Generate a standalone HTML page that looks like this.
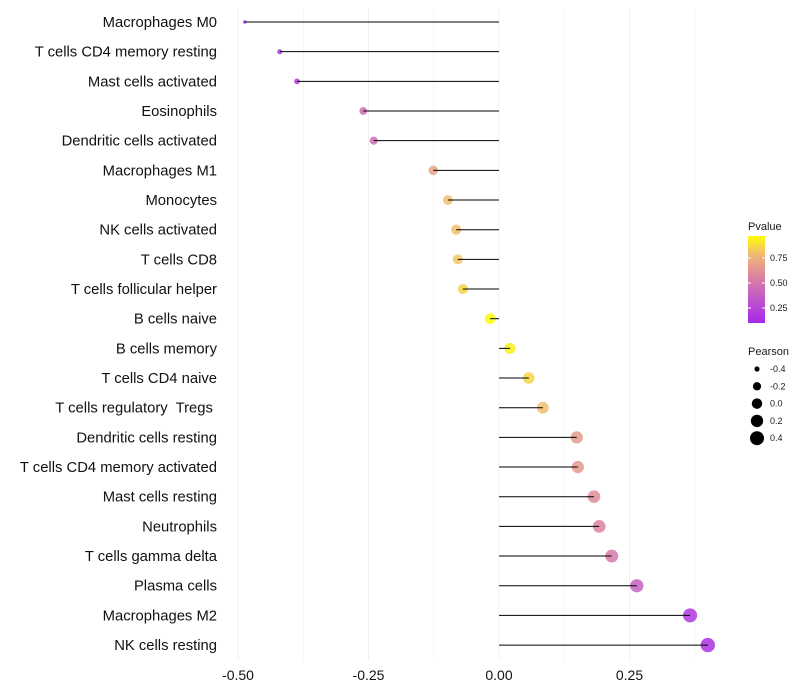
<!DOCTYPE html>
<html><head><meta charset="utf-8"><style>
body{margin:0;background:#fff;font-family:"Liberation Sans",sans-serif}
svg{display:block}
text{white-space:pre}
</style></head><body>
<svg id="c" width="800" height="700"></svg>
<script>
const categories=["Macrophages M0","T cells CD4 memory resting","Mast cells activated","Eosinophils","Dendritic cells activated","Macrophages M1","Monocytes","NK cells activated","T cells CD8","T cells follicular helper","B cells naive","B cells memory","T cells CD4 naive","T cells regulatory  Tregs ","Dendritic cells resting","T cells CD4 memory activated","Mast cells resting","Neutrophils","T cells gamma delta","Plasma cells","Macrophages M2","NK cells resting"];
const pearson=[-0.487,-0.42,-0.387,-0.26,-0.24,-0.126,-0.098,-0.082,-0.079,-0.069,-0.017,0.021,0.057,0.084,0.149,0.151,0.182,0.192,0.216,0.264,0.366,0.4];
const pvalue=[0.1,0.18,0.2,0.45,0.45,0.7,0.8,0.8,0.82,0.85,0.96,0.93,0.86,0.8,0.66,0.65,0.6,0.55,0.5,0.38,0.17,0.14];
const xTicks=[-0.5,-0.25,0,0.25];
const xTickLabels=["-0.50","-0.25","0.00","0.25"];
const pTicks=[0.25,0.5,0.75];
const sizeTicks=[-0.4,-0.2,0,0.2,0.4];

const NS="http://www.w3.org/2000/svg";
const svg=document.getElementById('c');
const X=v=>499+v*522;
const Y=i=>22+i*29.67;
const R=v=>Math.sqrt(Math.max(1,2.9+(v+0.487)*55));
function mk(t,a,p){const e=document.createElementNS(NS,t);for(const k in a)e.setAttribute(k,a[k]);(p||svg).appendChild(e);return e;}
const stops=[[0.05,[160,32,240]],[0.4,[200,100,190]],[0.6,[225,140,150]],[0.8,[240,190,110]],[0.97,[255,255,0]]];
function col(p){if(p<=stops[0][0])return 'rgb('+stops[0][1]+')';for(let i=1;i<stops.length;i++){if(p<=stops[i][0]){const a=stops[i-1],b=stops[i],t=(p-a[0])/(b[0]-a[0]);return 'rgb('+a[1].map((c,j)=>Math.round(c+(b[1][j]-c)*t))+')';}}return 'rgb('+stops[stops.length-1][1]+')';}

for(let v=-0.5;v<=0.375;v+=0.125){const g=mk('line',{x1:X(v),x2:X(v),y1:8,y2:660,stroke:'#f0f0f0','stroke-width':Math.abs(v*4-Math.round(v*4))<1e-6?1:0.6});
}
xTicks.forEach((v,i)=>{const t=mk('text',{x:X(v),y:680,'text-anchor':'middle','font-size':14,fill:'#111'});t.textContent=xTickLabels[i];
});
categories.forEach((c,i)=>{
 const t=mk('text',{x:217,y:Y(i)+5,'text-anchor':'end','font-size':14.8,fill:'#111'});t.textContent=c;
 
 const d=mk('circle',{cx:X(pearson[i]),cy:Y(i),r:R(pearson[i]),fill:col(pvalue[i]),'fill-opacity':0.85});
 
 const l=mk('line',{x1:X(0),x2:X(pearson[i]),y1:Y(i),y2:Y(i),stroke:'#000','stroke-width':1});
 
});
const lt=mk('text',{x:748,y:230,'font-size':11,fill:'#1a1a1a'});lt.textContent='Pvalue';

const defs=mk('defs',{});const gr=mk('linearGradient',{id:'pg',x1:0,y1:1,x2:0,y2:0},defs);
for(let k=0;k<=10;k++){const p=0.09+k*0.088;mk('stop',{offset:k/10,'stop-color':col(p)},gr);}
const PY=p=>308-(p-0.25)*100;
const bar=mk('rect',{x:748,y:PY(0.97),width:17,height:PY(0.1)-PY(0.97),fill:'url(#pg)'});

pTicks.forEach(p=>{mk('line',{x1:748,x2:751,y1:PY(p),y2:PY(p),stroke:'#fff'});mk('line',{x1:762,x2:765,y1:PY(p),y2:PY(p),stroke:'#fff'});
 const t=mk('text',{x:770,y:PY(p)+3,'font-size':9,fill:'#1a1a1a'});t.textContent=p.toFixed(2);
 });
const st=mk('text',{x:748,y:355,'font-size':11,fill:'#1a1a1a'});st.textContent='Pearson';

sizeTicks.forEach((v,i)=>{const yy=369+i*17.3;
 const c=mk('circle',{cx:757,cy:yy,r:R(v)-0.2,fill:'#000'});
 const t=mk('text',{x:770,y:yy+3,'font-size':9,fill:'#1a1a1a'});t.textContent=v.toFixed(1);
 });
</script>
</body></html>
